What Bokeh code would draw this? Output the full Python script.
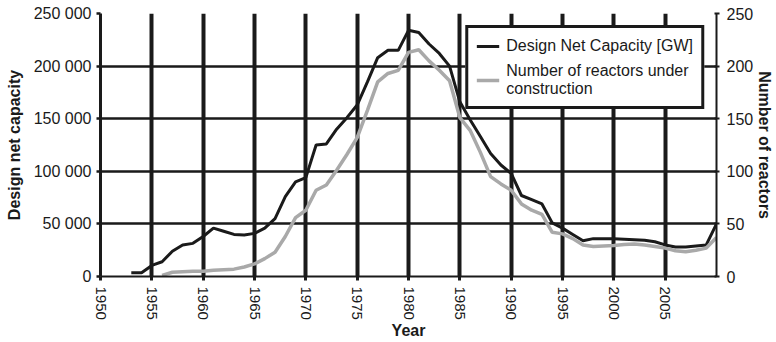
from bokeh.plotting import figure
from bokeh.models import (Range1d, LinearAxis, FixedTicker, CustomJSTickFormatter,
                          Legend, LegendItem)
from bokeh.embed import file_html
from bokeh.resources import INLINE

# ---- data ----
cap_years = list(range(1953, 2011))
capacity = [3500, 3500, 10500, 14000, 24000, 30000, 31500, 38000, 46000, 43000,
            40000, 39500, 41000, 46000, 55000, 76000, 90000, 94000, 125000, 126000,
            140000, 151000, 163000, 185000, 208000, 215000, 215000, 234000, 232000, 221000,
            212000, 200000, 166000, 149000, 133000, 117000, 106000, 98000, 77000, 73000,
            69000, 51000, 46000, 40000, 34000, 36000, 36000, 36000, 35500, 35000,
            34500, 33000, 30000, 28000, 28000, 29000, 30000, 50000]

reac_years = list(range(1956, 2011))
reactors = [1, 4, 4.5, 5, 5, 6, 6.5, 7, 9, 12,
            17, 23, 38, 56, 63, 82, 87, 101, 116, 132,
            158, 185, 193, 196, 213, 215.5, 205, 196, 186, 151,
            139, 118, 95, 88, 82, 69, 63, 59, 42, 40.5,
            36, 30, 28.5, 29, 29.5, 30.5, 31, 30, 28.5, 27,
            24.5, 23.5, 25, 27, 37]

x_ticks = list(range(1950, 2010, 5))
left_ticks = [0, 50000, 100000, 150000, 200000, 250000]
right_ticks = [0, 50, 100, 150, 200, 250]

FONT = "Liberation Sans"
FS = "16px"
DARK = "#1a1a1a"
GREY = "#a9a9a9"

p = figure(width=776, height=342, output_backend="svg", toolbar_location=None,
           x_range=Range1d(1950, 2010), y_range=Range1d(0, 250000),
           min_border_left=100, min_border_right=59, min_border_top=13, min_border_bottom=66)
p.outline_line_color = None
p.background_fill_color = "white"
p.border_fill_color = "white"

p.extra_y_ranges = {"reactors": Range1d(0, 250)}

# grids
p.xgrid.ticker = FixedTicker(ticks=x_ticks)
p.xgrid.grid_line_color = DARK
p.xgrid.grid_line_width = 4
p.ygrid.ticker = FixedTicker(ticks=left_ticks)
p.ygrid.grid_line_color = DARK
p.ygrid.grid_line_width = 2.5

# bottom axis
xa = p.xaxis[0]
xa.ticker = FixedTicker(ticks=x_ticks)
xa.major_label_orientation = "vertical"
xa.axis_label = "Year"
xa.minor_tick_line_color = None
xa.major_tick_in = 0
xa.major_tick_out = 4
xa.major_tick_line_width = 3
xa.major_tick_line_color = DARK
xa.axis_line_color = DARK
xa.axis_line_width = 2
xa.major_label_standoff = 6
xa.axis_label_standoff = -1

# left axis
ya = p.yaxis[0]
ya.ticker = FixedTicker(ticks=left_ticks)
ya.formatter = CustomJSTickFormatter(code="""
    return Math.round(tick).toString().replace(/\\B(?=(\\d{3})+(?!\\d))/g, " ");
""")
ya.axis_label = "Design net capacity"
ya.minor_tick_line_color = None
ya.major_tick_in = 0
ya.major_tick_out = 4
ya.major_tick_line_width = 2.5
ya.major_tick_line_color = DARK
ya.axis_line_color = DARK
ya.axis_line_width = 3
ya.major_label_standoff = 5
ya.axis_label_standoff = 8

# right axis
ra = LinearAxis(y_range_name="reactors", ticker=FixedTicker(ticks=right_ticks),
                axis_label="Number of reactors")
ra.minor_tick_line_color = None
ra.major_tick_in = 2
ra.major_tick_out = 3
ra.major_tick_line_width = 2
ra.major_tick_line_color = DARK
ra.axis_line_color = DARK
ra.axis_line_width = 2
ra.major_label_standoff = 7
ra.axis_label_standoff = 0
p.add_layout(ra, "right")

for ax in (xa, ya, ra):
    ax.major_label_text_font = FONT
    ax.major_label_text_font_size = FS
    ax.major_label_text_color = DARK
    ax.axis_label_text_font = FONT
    ax.axis_label_text_font_size = FS
    ax.axis_label_text_font_style = "bold"
    ax.axis_label_text_color = DARK
xa.major_label_text_font_size = "15px"

# lines
r_cap = p.line(cap_years, capacity, line_color=DARK, line_width=3)
r_reac = p.line(reac_years, reactors, line_color=GREY, line_width=3.5, y_range_name="reactors")

legend = Legend(items=[
    LegendItem(label="Design Net Capacity [GW]", renderers=[r_cap]),
    LegendItem(label="Number of reactors under\nconstruction", renderers=[r_reac]),
], location="top_right")
legend.margin = 12
legend.padding = 8
legend.spacing = 6
legend.glyph_width = 23
legend.label_standoff = 7
legend.label_text_font = FONT
legend.label_text_font_size = FS
legend.label_text_color = DARK
legend.border_line_color = DARK
legend.border_line_alpha = 1
legend.border_line_width = 3
legend.background_fill_alpha = 1
legend.background_fill_color = "white"
p.add_layout(legend, "center")

open("out.html", "w").write(file_html(p, INLINE))
